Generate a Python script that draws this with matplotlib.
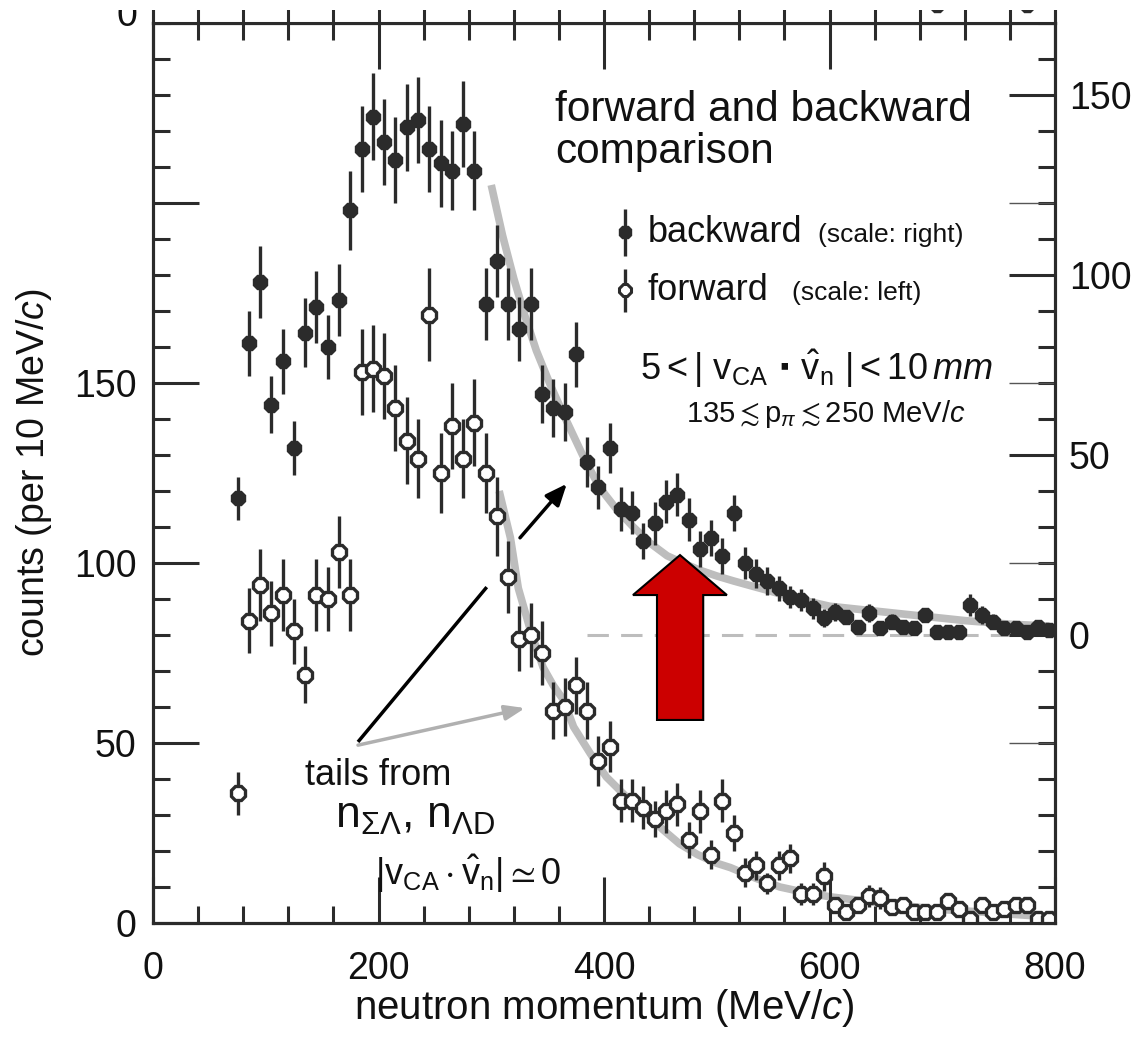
import numpy as np
import matplotlib
matplotlib.use('Agg')
from matplotlib import pyplot as plt
from matplotlib.patches import Polygon, Rectangle
from matplotlib.ticker import FixedLocator, MultipleLocator

plt.rcParams['font.family'] = ['Liberation Sans', 'DejaVu Sans']
plt.rcParams['mathtext.fontset'] = 'custom'
plt.rcParams['mathtext.rm'] = 'Liberation Sans'
plt.rcParams['mathtext.it'] = 'Liberation Sans:italic'
plt.rcParams['mathtext.sf'] = 'Liberation Sans'
plt.rcParams['mathtext.fallback'] = 'stixsans'

# momentum bin centres (MeV/c)
P_BINS = [75, 85, 95, 105, 115, 125, 135, 145, 155, 165, 175, 185, 195, 205, 215,
          225, 235, 245, 255, 265, 275, 285, 295, 305, 315, 325, 335, 345, 355, 365,
          375, 385, 395, 405, 415, 425, 435, 445, 455, 465, 475, 485, 495, 505, 515,
          525, 535, 545, 555, 565, 575, 585, 595, 605, 615, 625, 635, 645, 655, 665,
          675, 685, 695, 705, 715, 725, 735, 745, 755, 765, 775, 785, 795]

# forward counts (left scale)
FWD = [36, 84, 94, 86, 91, 81, 69, 91, 90, 103, 91, 153, 154, 152, 143,
       134, 129, 169, 125, 138, 129, 139, 125, 113, 96, 79, 80, 75, 59, 60,
       66, 59, 45, 49, 34, 34, 32, 29, 31, 33, 23, 31, 19, 34, 25,
       14, 16, 11, 16, 18, 8, 8, 13, 5, 3, 5, 7.5, 7, 4.5, 5,
       3, 3, 3, 6, 4, 1, 5, 3, 4, 5, 5, 1, 1]
FWD_ERR = [6, 9, 10, 9, 10, 9, 8, 10, 9, 10, 10, 12, 12, 12, 12,
           12, 11, 13, 11, 12, 11, 12, 11, 11, 10, 9, 9, 9, 8, 8,
           8, 8, 7, 7, 6, 6, 6, 5, 6, 6, 5, 6, 4, 6, 5,
           4, 4, 3, 4, 4, 3, 3, 4, 2, 2, 2, 3, 3, 2, 2,
           2, 2, 2, 2, 2, 1, 2, 2, 2, 2, 2, 1, 1]

# backward counts (right scale)
BWD = [38, 81, 98, 64, 76, 52, 84, 91, 80, 93, 118, 135, 144, 137, 132,
       141, 143, 135, 131, 129, 142, 129, 92, 104, 92, 85, 92, 67, 63, 62,
       78, 48, 41, 52, 35, 34, 26, 31, 37, 39, 32, 24, 27, 22, 34,
       20, 17, 15, 13, 10.5, 9.7, 7.4, 4.6, 6.5, 5, 2.3, 6.2, 1.9, 3.7, 2.3,
       1.9, 5.6, 0.9, 0.9, 0.9, 8.3, 5.6, 3.7, 1.9, 1.9, 0.9, 2.3, 1.4]
BWD_ERR = [6, 9, 10, 8, 9, 7.5, 9.5, 10, 9, 10, 11, 12, 12, 12, 12,
           12, 12, 12, 12, 11, 12, 11, 10, 10, 10, 9, 10, 8, 8, 8,
           9, 7, 6, 7, 6, 6, 5, 6, 6, 6, 6, 5, 5, 5, 5,
           4.5, 4, 4, 3.5, 3, 3, 3, 2.5, 2.5, 2, 2, 2.5, 2, 2, 2,
           2, 2, 1.5, 1.5, 1.5, 3, 2.5, 2, 2, 2, 1.5, 2, 1.5]

# fitted tails (grey bands)
FIT_B_P = [300, 310, 320, 330, 340, 353, 366, 381, 396, 411, 426, 441, 456, 470, 485,
           500, 515, 530, 544, 572, 600, 630, 660, 690, 720, 760, 795]
FIT_B = [125, 111, 99, 88.5, 79, 69, 60, 50, 41, 35, 30, 25.5, 22, 20, 18,
         16.4, 15, 13.7, 12.5, 10, 8, 7, 6, 5, 4, 3, 2.5]
FIT_F_P = [307, 317, 324, 335, 346, 355, 364, 373, 388, 402, 420, 438, 452, 467, 483,
           500, 512, 534, 556, 578, 600, 623, 645, 667, 689, 711, 733, 763, 795]
FIT_F = [120, 107, 93, 81, 71, 66, 62, 54.5, 47, 40.6, 35, 30.4, 26, 22, 19,
         16.6, 15.4, 12.5, 10, 8.5, 7.3, 6.4, 5.6, 4.8, 4, 3.5, 3.1, 2.4, 1.7]

W, H = 1135, 1037
DARK = '#2b2b2b'
GREY = '#bdbdbd'


def fx(px):
    return px / W


def fy(py):
    return 1 - py / H


fig = plt.figure(figsize=(W / 100, H / 100), dpi=100)
L, B, R, T = 153, 923, 1055, 23
ax = fig.add_axes([fx(L), fy(B), fx(R) - fx(L), fy(T) - fy(B)])
axr = ax.twinx()
axt = ax.twinx()

ax.set_xlim(0, 800)
ax.set_ylim(0, 250)
axr.set_ylim(-80, 170)
axt.set_ylim(0, 250)

for a in (ax, axr, axt):
    for s in a.spines.values():
        s.set_linewidth(2.2)
        s.set_color(DARK)

ax.xaxis.set_major_locator(FixedLocator([0, 200, 400, 600, 800]))
ax.xaxis.set_minor_locator(MultipleLocator(40))
ax.yaxis.set_major_locator(FixedLocator([0, 50, 100, 150, 200]))
ax.set_yticklabels(['0', '50', '100', '150', ''])
ax.yaxis.set_minor_locator(MultipleLocator(10))
ax.tick_params(which='both', direction='in', top=True, right=False,
               color=DARK, width=2.2, labelsize=27, labelcolor='#111111')
ax.tick_params(which='major', length=33)
ax.tick_params(which='minor', length=12)
ax.tick_params(axis='x', pad=20)
ax.tick_params(axis='y', pad=12)

axr.yaxis.set_major_locator(FixedLocator([0, 50, 100, 150]))
axr.yaxis.set_minor_locator(MultipleLocator(10))
axr.tick_params(which='both', direction='in', color=DARK, width=2.2,
                labelsize=27, labelcolor='#111111', pad=10)
axr.tick_params(which='major', length=33)
axr.tick_params(which='minor', length=12)

# thin marks of the left scale on the right spine
axt.yaxis.set_major_locator(FixedLocator([50, 100, 150, 200]))
axt.yaxis.set_minor_locator(FixedLocator([]))
axt.tick_params(which='major', direction='in', length=33, width=1.0,
                color='#555555', labelright=False)

ax.set_xlabel('neutron momentum (MeV/$c$)', fontsize=29, labelpad=0, color='#111111')
ax.set_ylabel('counts (per 10 MeV/$c$)', fontsize=27, labelpad=14, color='#111111')

# grey fitted tails
axr.plot(FIT_B_P, FIT_B, color=GREY, lw=5.5, solid_capstyle='butt', zorder=1)
ax.plot(FIT_F_P, FIT_F, color=GREY, lw=5.5, solid_capstyle='butt', zorder=1)
axr.hlines(0, 385, 800, colors=GREY, linestyles=(0, (7, 4)), lw=2.2, zorder=1)

# data points
ax.errorbar(P_BINS, FWD, yerr=FWD_ERR, fmt='8', ms=11, mfc='white', mec=DARK,
            mew=2.4, ecolor=DARK, elinewidth=2.4, capsize=0, zorder=3)
axr.errorbar(P_BINS, BWD, yerr=BWD_ERR, fmt='8', ms=11.5, mfc=DARK, mec=DARK,
             mew=1, ecolor=DARK, elinewidth=2.4, capsize=0, zorder=3)

# legend entries drawn by hand
axr.errorbar([418.6], [111.9], yerr=[6.5], fmt='8', ms=10, mfc=DARK, mec=DARK,
             ecolor=DARK, elinewidth=2.4, capsize=0, clip_on=False)
axr.errorbar([418.6], [95.8], yerr=[6], fmt='8', ms=9, mfc='white', mec=DARK,
             mew=2.2, ecolor=DARK, elinewidth=2.4, capsize=0, clip_on=False)

# arrows from the "tails" label
ax.annotate('', xy=(330, 59.7), xytext=(181.8, 49.4),
            arrowprops=dict(arrowstyle='-|>,head_length=1.2,head_width=0.45',
                            color='#b0b0b0', lw=2.5, shrinkA=0, shrinkB=0))
ax.plot([181.8, 296], [50.3, 93.3], color='black', lw=2.5, solid_capstyle='butt')
ax.annotate('', xy=(367, 122), xytext=(325.5, 107),
            arrowprops=dict(arrowstyle='-|>,head_length=1.3,head_width=0.55',
                            color='black', lw=2.5, shrinkA=0, shrinkB=0))

# red block arrow marking the bump (right scale)
RED_ARROW = [(467.4, 22.2), (509, 11.1), (488, 11.1), (488, -23.6),
             (447, -23.6), (447, 11.1), (425.7, 11.1)]
axr.add_patch(Polygon(RED_ARROW, closed=True, facecolor='#cc0000',
                      edgecolor='black', lw=1.5, zorder=5))

# upper panel remnants
axu = fig.add_axes([fx(L), fy(T), fx(R) - fx(L), 0.4])
axu.set_xlim(0, 800)
axu.set_ylim(0, 100)
for k, s in axu.spines.items():
    s.set_linewidth(2.2)
    s.set_color(DARK)
axu.xaxis.set_major_locator(FixedLocator([0, 200, 400, 600, 800]))
axu.xaxis.set_minor_locator(MultipleLocator(40))
axu.tick_params(which='both', direction='in', length=10, width=2.2, color=DARK,
                labelbottom=False, left=False, labelleft=False)
axu.plot([695, 775], [4.2, 4.2], '8', ms=10, color=DARK, clip_on=False)
fig.text(fx(137), fy(16), '0', fontsize=27, ha='right', va='center', color='#111111')
fig.add_artist(Rectangle((0, fy(10)), 1, 10 / H, transform=fig.transFigure,
                         facecolor='white', edgecolor='none', zorder=20))

# annotations
txt = dict(color='#111111', va='baseline', ha='left')
fig.text(fx(555), fy(121), 'forward and backward', fontsize=30.5, **txt)
fig.text(fx(555), fy(163), 'comparison', fontsize=30.5, **txt)
fig.text(fx(648), fy(242), 'backward', fontsize=26, **txt)
fig.text(fx(818), fy(242), '(scale: right)', fontsize=19, **txt)
fig.text(fx(648), fy(300), 'forward', fontsize=26, **txt)
fig.text(fx(792), fy(300), '(scale: left)', fontsize=19, **txt)
fig.text(fx(640), fy(380),
         r'$5 < |\ \mathrm{v}_{\mathrm{CA}}\ \mathbf{\cdot}\ \hat{\mathrm{v}}_{\mathrm{n}}\ | < 10\,\mathit{mm}$',
         fontsize=26, **txt)
fig.text(fx(686), fy(422), r'$135 \lesssim \mathrm{p}_{\pi} \lesssim 250$ MeV/$c$',
         fontsize=21, **txt)
fig.text(fx(305), fy(785), 'tails from', fontsize=26, **txt)
fig.text(fx(335), fy(828), r'$\mathrm{n}_{\Sigma\Lambda}$, $\mathrm{n}_{\Lambda\mathrm{D}}$',
         fontsize=32, **txt)
fig.text(fx(375), fy(885),
         r'$|\mathrm{v}_{\mathrm{CA}}\cdot\hat{\mathrm{v}}_{\mathrm{n}}| \simeq 0$',
         fontsize=26, **txt)

plt.savefig('out.png', dpi=100)
